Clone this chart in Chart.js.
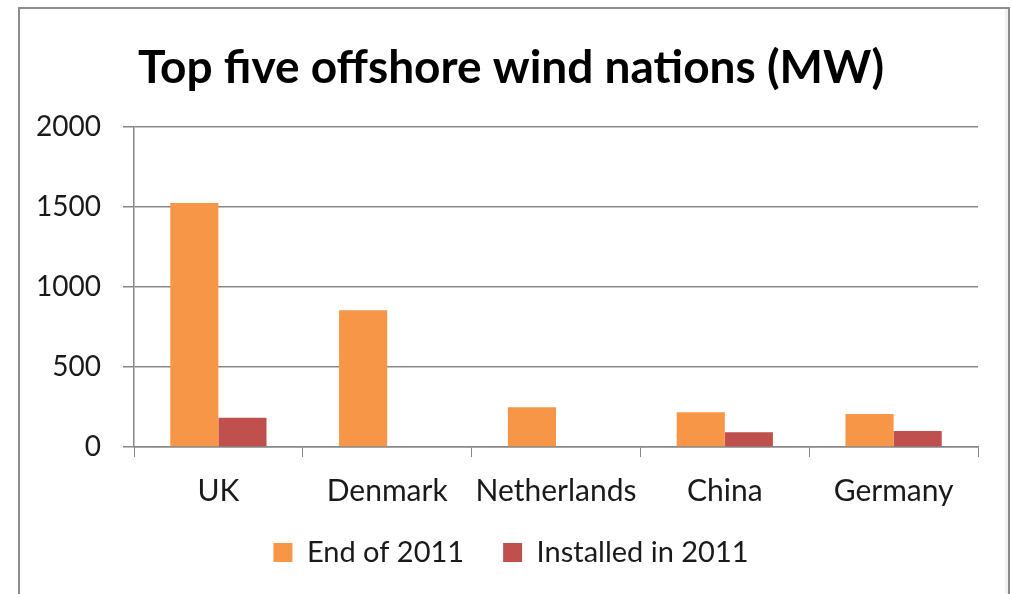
<!DOCTYPE html>
<html>
<head>
<meta charset="utf-8">
<title>Top five offshore wind nations</title>
<script src="https://cdn.jsdelivr.net/npm/chart.js@4.4.1/dist/chart.umd.min.js"></script>
<style>
    body {
        margin: 0;
        background: #ffffff;
    }
    .chart-wrap {
        position: relative;
        width: 1012px;
        height: 594px;
        overflow: hidden;
    }
    .chart-frame {
        position: absolute;
        left: 18px;
        top: 7px;
        width: 988px;
        height: 700px;
        border: 2px solid #8c8c8c;
        border-bottom: none;
        box-shadow: inset -3px 0 0 #f2f2f2;
    }
    #wind-chart {
        position: absolute;
        left: 0;
        top: 0;
    }
</style>
</head>
<body>
<div class="chart-wrap">
    <div class="chart-frame"></div>
    <canvas id="wind-chart" width="1012" height="594"></canvas>
</div>
<script>
const nations = ["UK", "Denmark", "Netherlands", "China", "Germany"];
const endOf2011 = [1526, 856, 248, 217, 207];
const installedIn2011 = [183, 0, 0, 92, 100];
const yTicks = [0, 500, 1000, 1500, 2000];

const fontFamily = "Lato, 'Open Sans', sans-serif";
const textColor = "#1a1a1a";
const lineColor = "#878787";

const ctx = document.getElementById("wind-chart").getContext("2d");

new Chart(ctx, {
    type: 'bar',
    data: {
        labels: nations,
        datasets: [{
            label: 'End of 2011',
            data: endOf2011,
            backgroundColor: '#f79646',
            categoryPercentage: 0.57,
            barPercentage: 1.0
        }, {
            label: 'Installed in 2011',
            data: installedIn2011,
            backgroundColor: '#c0504d',
            categoryPercentage: 0.57,
            barPercentage: 1.0
        }]
    },
    options: {
        responsive: false,
        animation: false,
        layout: {
            padding: { left: 10, right: 0, top: 0, bottom: 17 }
        },
        plugins: {
            title: {
                display: true,
                text: 'Top five offshore wind nations (MW)',
                color: '#000000',
                font: {
                    size: 46,
                    family: fontFamily,
                    weight: 'bold'
                },
                padding: { top: 41, bottom: 31 }
            },
            legend: {
                position: 'bottom',
                labels: {
                    color: textColor,
                    boxWidth: 19,
                    boxHeight: 19,
                    padding: 10,
                    font: {
                        size: 29,
                        family: fontFamily
                    },
                    // wider gap between the two entries
                    generateLabels: function (chart) {
                        const items = Chart.defaults.plugins.legend.labels.generateLabels(chart);
                        items[0].text += "\u2002\u2002";
                        return items;
                    }
                }
            },
            tooltip: {
                enabled: false
            }
        },
        scales: {
            x: {
                grid: {
                    offset: true,
                    drawOnChartArea: false,
                    drawTicks: true,
                    tickLength: 10,
                    color: lineColor
                },
                border: {
                    color: lineColor,
                    width: 1.5
                },
                ticks: {
                    color: textColor,
                    padding: 16,
                    font: {
                        size: 30,
                        family: fontFamily
                    }
                },
                afterFit: function (scale) {
                    scale.height = 81;
                }
            },
            y: {
                min: 0,
                max: 2000,
                afterBuildTicks: function (scale) {
                    scale.ticks = yTicks.map(v => ({ value: v }));
                },
                grid: {
                    color: lineColor,
                    lineWidth: 1.5,
                    tickLength: 11
                },
                border: {
                    color: lineColor,
                    width: 1.5
                },
                ticks: {
                    color: textColor,
                    padding: 22,
                    callback: value => String(value),
                    font: {
                        size: 28,
                        family: fontFamily
                    }
                },
                afterFit: function (scale) {
                    scale.width = 124;
                }
            },
            // empty right-hand axis, only keeps the plot clear of the frame
            yRight: {
                position: 'right',
                grid: { display: false },
                border: { display: false },
                ticks: { display: false },
                afterFit: function (scale) {
                    scale.width = 34;
                }
            }
        }
    }
});
</script>
</body>
</html>
